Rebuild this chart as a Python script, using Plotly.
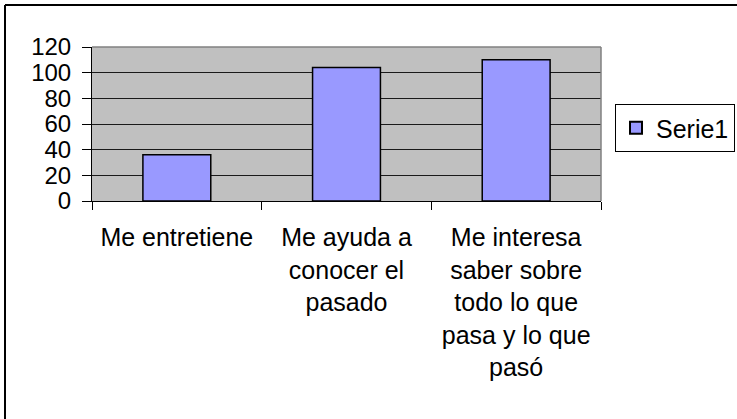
import plotly.graph_objects as go

categories = [
    "Me entretiene",
    "Me ayuda a<br>conocer el<br>pasado",
    "Me interesa<br>saber sobre<br>todo lo que<br>pasa y lo que<br>pasó",
]
values = [36, 104, 110]
series_name = "Serie1"
y_ticks = [0, 20, 40, 60, 80, 100, 120]

W, H = 737, 419
L, R, T, B = 92, 601, 47, 201

fig = go.Figure()
fig.add_trace(go.Bar(
    x=categories, y=values, name=series_name,
    marker=dict(color="#9999FF", line=dict(color="#000000", width=1.5)),
    width=0.4, showlegend=True,
))

fam = "Liberation Sans, Arial, sans-serif"
font_x = dict(family=fam, size=25, color="#000000")
font_y = dict(family=fam, size=24, color="#000000")

def px_x(x):
    return (x - L) / (R - L)

def px_y(y):
    return (B - y) / (B - T)

fig.update_layout(
    width=W, height=H,
    margin=dict(l=L, r=W - R, t=T, b=H - B, pad=0, autoexpand=False),
    paper_bgcolor="#FFFFFF",
    plot_bgcolor="#C0C0C0",
    font=font_x,
    showlegend=True,
    legend=dict(
        x=px_x(735), y=px_y(104),
        xanchor="right", yanchor="top",
        bgcolor="#FFFFFF", bordercolor="#000000", borderwidth=1,
        font=font_x, itemsizing="constant",
    ),
    xaxis=dict(
        type="category", tickson="boundaries", ticks="outside", ticklen=8,
        tickcolor="#000000", showline=True, linecolor="#000000", linewidth=1,
        showgrid=False, tickangle=0, tickfont=font_x, fixedrange=True,
        ticklabelstandoff=14, automargin=False,
    ),
    yaxis=dict(
        range=[0, 120], tickvals=y_ticks, ticktext=[str(v) for v in y_ticks],
        ticks="outside", ticklen=9, tickcolor="#000000",
        showline=True, linecolor="#000000", linewidth=1,
        showgrid=True, gridcolor="#1a1a1a", gridwidth=1,
        zeroline=False, tickfont=font_y, ticklabelstandoff=6, automargin=False,
    ),
    bargap=0.6,
    shapes=[
        dict(type="line", xref="paper", yref="paper", x0=0, x1=1, y0=1, y1=1,
             line=dict(color="#808080", width=1.5)),
        dict(type="line", xref="paper", yref="paper", x0=1, x1=1, y0=0, y1=1,
             line=dict(color="#808080", width=1.5)),
        dict(type="line", xref="paper", yref="paper",
             x0=px_x(5), x1=px_x(745), y0=px_y(5), y1=px_y(5),
             line=dict(color="#000000", width=2)),
        dict(type="line", xref="paper", yref="paper",
             x0=px_x(5), x1=px_x(5), y0=px_y(5), y1=px_y(440),
             line=dict(color="#000000", width=2)),
    ],
)

# remove the default 8px page margin so the figure sits at the window origin
fig.write_html(
    "out.html",
    config={"displayModeBar": False},
    post_script="document.body.style.margin='0';",
)
